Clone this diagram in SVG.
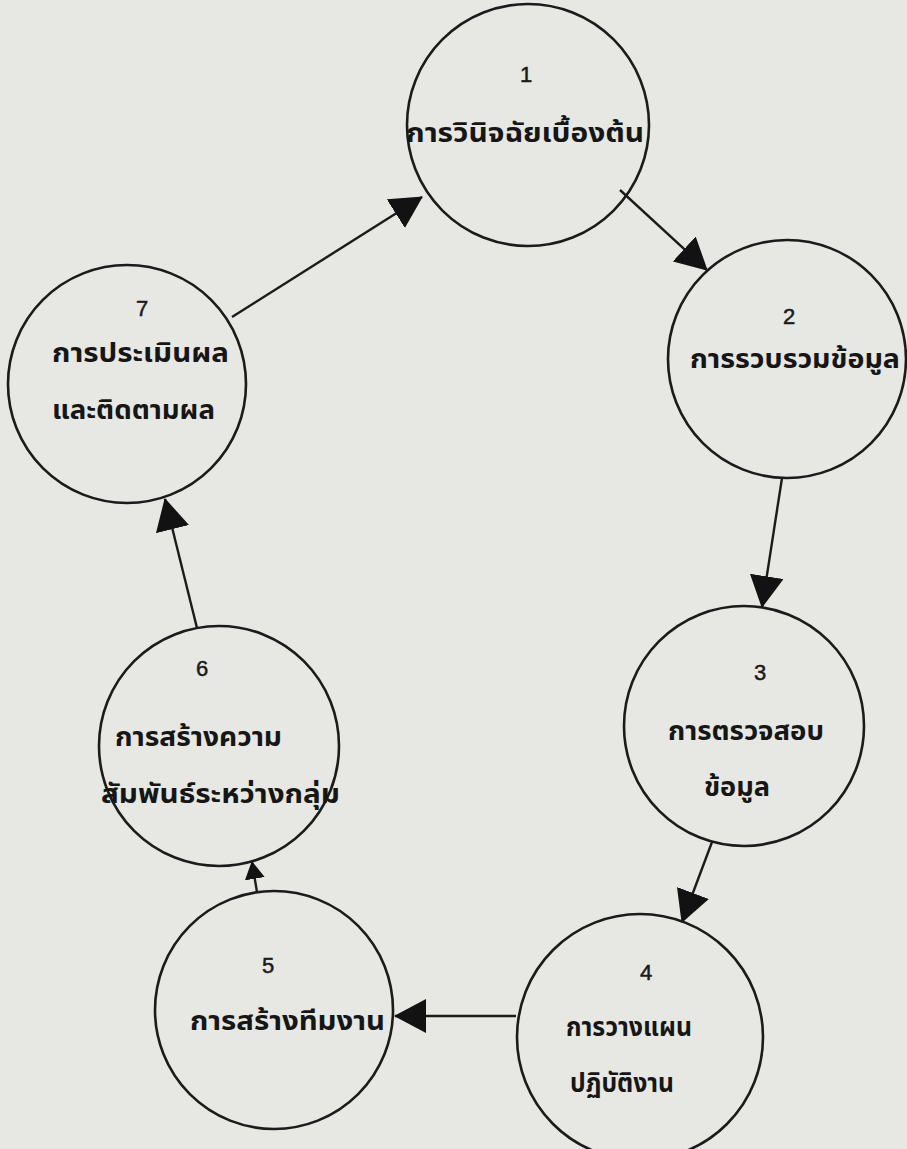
<svg xmlns="http://www.w3.org/2000/svg" width="907" height="1149" viewBox="0 0 907 1149">
  <style>
    .node circle { fill: none; stroke: #1b1b1b; stroke-width: 2.6; }
    .num { font-family: "Liberation Sans", "DejaVu Sans", sans-serif; font-size: 22px; fill: #1b1b1b; stroke: #1b1b1b; stroke-width: 0.5; text-anchor: middle; }
    .lbl { font-family: "Noto Sans Thai", "Noto Sans Thai UI", "Noto Sans", "DejaVu Sans", sans-serif; font-size: 26px; font-weight: bold; fill: #161616; }
    .edge { stroke: #1b1b1b; stroke-width: 2.4; fill: none; }
  </style>
  <defs>
    <marker id="head" viewBox="0 0 32 34" refX="31" refY="17" markerWidth="32" markerHeight="34" markerUnits="userSpaceOnUse" orient="auto">
      <path d="M0,0 L32,17 L0,34 Z" fill="#121212"/>
    </marker>
    <marker id="headSmall" viewBox="0 0 18 20" refX="17" refY="10" markerWidth="18" markerHeight="20" markerUnits="userSpaceOnUse" orient="auto">
      <path d="M0,0 L18,10 L0,20 Z" fill="#121212"/>
    </marker>
  </defs>

  <!-- paper -->
  <rect width="907" height="1149" fill="#e7e7e3"/>

  <!-- connectors -->
  <g id="connectors">
    <line class="edge" x1="232" y1="317" x2="422" y2="197" marker-end="url(#head)"/>
    <line class="edge" x1="620" y1="190" x2="707" y2="270" marker-end="url(#head)"/>
    <line class="edge" x1="782" y1="478" x2="762" y2="607" marker-end="url(#head)"/>
    <line class="edge" x1="712" y1="842" x2="682" y2="922" marker-end="url(#head)"/>
    <line class="edge" x1="516" y1="1016" x2="395" y2="1016" marker-end="url(#head)"/>
    <line class="edge" x1="257" y1="892" x2="252" y2="862" marker-end="url(#headSmall)"/>
    <line class="edge" x1="197" y1="628" x2="165" y2="499" marker-end="url(#head)"/>
  </g>

  <!-- step 1 -->
  <g id="node1" class="node">
    <circle cx="528" cy="125" r="121"/>
    <text class="num" x="526" y="82">1</text>
    <text class="lbl" x="406" y="142" textLength="238" lengthAdjust="spacingAndGlyphs">การวินิจฉัยเบื้องต้น</text>
  </g>

  <!-- step 2 -->
  <g id="node2" class="node">
    <circle cx="787" cy="359" r="119"/>
    <text class="num" x="789" y="324">2</text>
    <text class="lbl" x="690" y="368" textLength="210" lengthAdjust="spacingAndGlyphs">การรวบรวมข้อมูล</text>
  </g>

  <!-- step 3 -->
  <g id="node3" class="node">
    <circle cx="744" cy="726" r="120"/>
    <text class="num" x="760" y="680">3</text>
    <text class="lbl" x="668" y="740" textLength="156" lengthAdjust="spacingAndGlyphs">การตรวจสอบ</text>
    <text class="lbl" x="704" y="796" textLength="66" lengthAdjust="spacingAndGlyphs">ข้อมูล</text>
  </g>

  <!-- step 4 -->
  <g id="node4" class="node">
    <circle cx="640" cy="1037" r="123"/>
    <text class="num" x="646" y="980">4</text>
    <text class="lbl" x="566" y="1036" textLength="126" lengthAdjust="spacingAndGlyphs">การวางแผน</text>
    <text class="lbl" x="570" y="1092" textLength="104" lengthAdjust="spacingAndGlyphs">ปฏิบัติงาน</text>
  </g>

  <!-- step 5 -->
  <g id="node5" class="node">
    <circle cx="274" cy="1010" r="119"/>
    <text class="num" x="268" y="973">5</text>
    <text class="lbl" x="190" y="1030" textLength="195" lengthAdjust="spacingAndGlyphs">การสร้างทีมงาน</text>
  </g>

  <!-- step 6 -->
  <g id="node6" class="node">
    <circle cx="219" cy="746" r="120"/>
    <text class="num" x="202" y="676">6</text>
    <text class="lbl" x="115" y="746" textLength="167" lengthAdjust="spacingAndGlyphs">การสร้างความ</text>
    <text class="lbl" x="101" y="803" textLength="239" lengthAdjust="spacingAndGlyphs">สัมพันธ์ระหว่างกลุ่ม</text>
  </g>

  <!-- step 7 -->
  <g id="node7" class="node">
    <circle cx="127" cy="384" r="119"/>
    <text class="num" x="142" y="316">7</text>
    <text class="lbl" x="52" y="362" textLength="177" lengthAdjust="spacingAndGlyphs">การประเมินผล</text>
    <text class="lbl" x="52" y="419" textLength="163" lengthAdjust="spacingAndGlyphs">และติดตามผล</text>
  </g>
</svg>
